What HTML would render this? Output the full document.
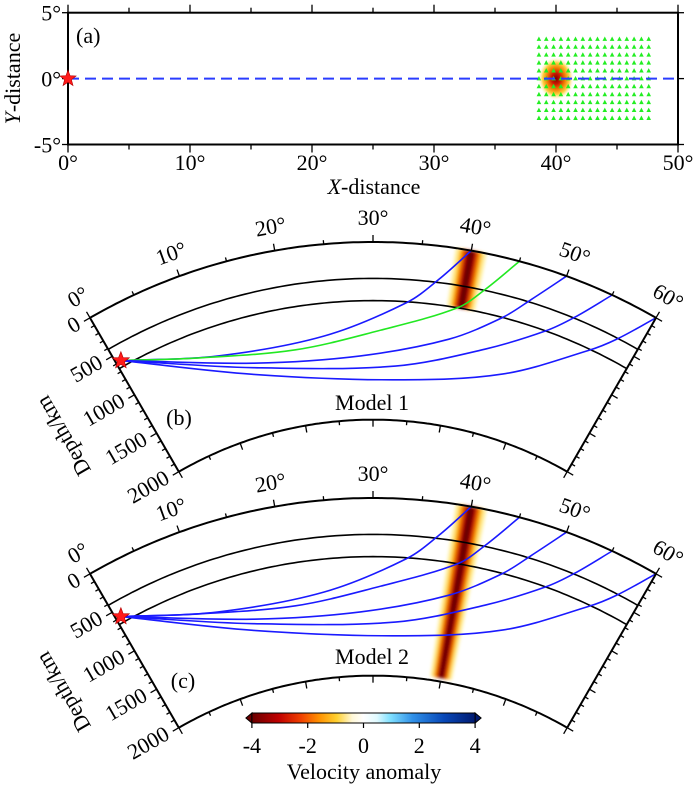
<!DOCTYPE html>
<html><head><meta charset="utf-8"><style>
html,body{margin:0;padding:0;background:#fff;}
svg{display:block;font-family:"Liberation Serif",serif;}
</style></head><body>
<svg id="fig" width="700" height="785" viewBox="0 0 700 785" xmlns="http://www.w3.org/2000/svg">
<defs>
<radialGradient id="anomA" cx="0.5" cy="0.5" r="0.5">
<stop offset="0" stop-color="#7a0000"/><stop offset="0.25" stop-color="#c81800"/><stop offset="0.5" stop-color="#f07a00"/><stop offset="0.75" stop-color="#ffd040"/><stop offset="1" stop-color="#fff6c0" stop-opacity="0"/>
</radialGradient>
<linearGradient id="cbar" x1="0" x2="1" y1="0" y2="0">
<stop offset="0" stop-color="#6a0000"/><stop offset="0.12" stop-color="#c00000"/><stop offset="0.22" stop-color="#f04000"/><stop offset="0.3" stop-color="#ff9000"/><stop offset="0.38" stop-color="#ffd030"/><stop offset="0.45" stop-color="#fff8d8"/><stop offset="0.5" stop-color="#ffffff"/><stop offset="0.56" stop-color="#e0faff"/><stop offset="0.62" stop-color="#80e0ff"/><stop offset="0.72" stop-color="#3090e8"/><stop offset="0.86" stop-color="#0848b8"/><stop offset="1" stop-color="#001a70"/>
</linearGradient>
<filter id="blur" x="-50%" y="-10%" width="200%" height="120%"><feGaussianBlur stdDeviation="1.6"/></filter>
</defs>
<g id="panelA"></g>
<g id="panelB"></g>
<g id="panelC"></g>
<g id="cbarG"></g>
</svg>
<script>
// ---------- data ----------
const aXTicks = [0,10,20,30,40,50];
const aYTicks = [5,0,-5];
const aSource = [0,0];
const aAnomaly = [40,0,1.45,1.6];
const stationX = [38.6,39.2,39.8,40.4,41.0,41.6,42.2,42.8,43.4,44.0,44.6,45.2,45.8,46.4,47.0,47.6];
const stationY = [3.0,2.4,1.8,1.2,0.6,0,-0.6,-1.2,-1.8,-2.4,-3.0];
const distTicks = [0,10,20,30,40,50,60];
const depthTicks = [0,500,1000,1500,2000];
const discontinuities = [410,660];
const srcTheta = 0.6, srcDepth = 590;
const rayEnds = [40,45,50,55,60];
const ray1Theta = [11.0,24.1,33.8,37.1], ray1Depth = [990,1030,670,375];
const ray2Theta = [8.9,20.4,30.6,39.6,42.2], ray2Depth = [940,1140,1000,660,400];
const ray3Theta = [14.9,28.4,39.2,44.8,47.3], ray3Depth = [1185,1280,1025,660,375];
const ray4Theta = [14.8,32.9,43.7,49.9,52.3], ray4Depth = [1235,1390,1055,660,405];
const ray5Theta = [14.5,33.0,46.6,55.2,57.5], ray5Depth = [1305,1545,1275,680,420];
const ray1ThetaC = [11.0,24.1,33.8,37.1], ray1DepthC = [990,1030,670,375];
const ray2ThetaC = [8.9,20.4,30.6,39.6,42.2], ray2DepthC = [940,1140,1000,660,400];
const ray3ThetaC = [14.9,28.4,39.2,44.8,47.3], ray3DepthC = [1185,1280,1025,660,375];
const ray4ThetaC = [14.8,32.9,43.7,49.9,52.3], ray4DepthC = [1235,1390,1055,660,405];
const ray5ThetaC = [14.5,33.0,46.6,55.2,57.5], ray5DepthC = [1305,1545,1275,680,420];
const bandB = [40,0,660];   // theta, top depth, bottom depth
const bandC = [40,0,1960];
const cbTicks = [-4,-2,0,2,4];

// ---------- helpers ----------
const NS="http://www.w3.org/2000/svg";
const FS=22;
function mk(tag, attrs, parent){const e=document.createElementNS(NS,tag);for(const k in attrs)e.setAttribute(k,attrs[k]);parent.appendChild(e);return e;}
function txt(s, attrs, parent){const e=mk('text',attrs,parent);e.textContent=s;return e;}
function starPts(cx,cy,ro,ri){let p=[];for(let i=0;i<10;i++){const a=-Math.PI/2+i*Math.PI/5;const r=i%2?ri:ro;p.push((cx+r*Math.cos(a)).toFixed(1)+','+(cy+r*Math.sin(a)).toFixed(1));}return p.join(' ');}

// ---------- panel a ----------
const A=document.getElementById('panelA');
const AX0=68, AX1=678, AY0=12.7, AY1=144.5;
const ax=d=>AX0+(d-0)*(AX1-AX0)/50;
const ay=v=>(AY0+AY1)/2 - v*(AY1-AY0)/10;
let e;
e=mk('ellipse',{cx:ax(aAnomaly[0]),cy:ay(aAnomaly[1]),rx:ax(aAnomaly[2])-ax(0),ry:ay(0)-ay(aAnomaly[3]),fill:'url(#anomA)'},A);


stationX.forEach(x=>stationY.forEach(y=>{
  const px=ax(x), py=ay(y);
  const t=mk('polygon',{points:`${px},${py-2.6} ${px-2.3},${py+1.8} ${px+2.3},${py+1.8}`,fill:'#22ee22'},A);
  
  
}));
e=mk('line',{x1:ax(0),y1:ay(0),x2:ax(50),y2:ay(0),stroke:'#2a3cff','stroke-width':2,'stroke-dasharray':'11,6'},A);


e=mk('rect',{x:AX0,y:AY0,width:AX1-AX0,height:AY1-AY0,fill:'none',stroke:'#000','stroke-width':2},A);


for(let d=0;d<=50;d+=5){
  mk('line',{x1:ax(d),y1:AY0,x2:ax(d),y2:AY0-(d%10?5:8),stroke:'#000','stroke-width':1.3},A);
  mk('line',{x1:ax(d),y1:AY1,x2:ax(d),y2:AY1+(d%10?5:8),stroke:'#000','stroke-width':1.3},A);
}
aXTicks.forEach(d=>{const t=txt(d+'°',{x:ax(d),y:170,'font-size':FS,'text-anchor':'middle'},A);
  
  });
aYTicks.forEach(v=>{
  mk('line',{x1:AX0-6,y1:ay(v),x2:AX0,y2:ay(v),stroke:'#000','stroke-width':1.3},A);
  mk('line',{x1:AX1,y1:ay(v),x2:AX1+6,y2:ay(v),stroke:'#000','stroke-width':1.3},A);
  const t=txt(v+'°',{x:61,y:ay(v)+8,'font-size':FS,'text-anchor':'end'},A);
  
  
});
e=txt('',{x:374,y:194,'font-size':FS,'text-anchor':'middle'},A);
e.innerHTML='<tspan font-style="italic">X</tspan>-distance';


e=txt('',{x:0,y:0,'font-size':FS,'text-anchor':'middle',transform:`translate(20,${ay(0)}) rotate(-90)`},A);
e.innerHTML='<tspan font-style="italic">Y</tspan>-distance';


e=txt('(a)',{x:76,y:43,'font-size':FS},A);


e=mk('polygon',{points:starPts(ax(aSource[0]),ay(aSource[1]),8.5,3.6),fill:'#ff1a1a',stroke:'#b00000','stroke-width':0.6},A);



// ---------- polar panels ----------
const R=566, CX=373;
function rOf(depth){return R*(6371-depth)/6371;}
function polR(theta,r,cy){const p=(theta-30)*Math.PI/180;return [CX+r*Math.sin(p), cy-r*Math.cos(p)];}
function pol(theta,depth,cy){return polR(theta,rOf(depth),cy);}
function arcPath(depth,cy,t0,t1){let s='';for(let t=t0;t<=t1+1e-9;t+=0.5){const p=pol(t,depth,cy);s+=(s?'L':'M')+p[0].toFixed(1)+','+p[1].toFixed(1);}return s;}
function norm(v){const l=Math.hypot(v[0],v[1])||1;return [v[0]/l,v[1]/l];}
function smoothPath(pts){
  const n=pts.length, dirs=[];
  for(let i=0;i<n;i++){const a=pts[Math.max(0,i-1)], b=pts[Math.min(n-1,i+1)];dirs.push(norm([b[0]-a[0],b[1]-a[1]]));}
  let s='M'+pts[0][0].toFixed(1)+','+pts[0][1].toFixed(1);
  for(let i=0;i<n-1;i++){const p1=pts[i],p2=pts[i+1];const L=Math.hypot(p2[0]-p1[0],p2[1]-p1[1])/3;
    const c1=[p1[0]+dirs[i][0]*L,p1[1]+dirs[i][1]*L], c2=[p2[0]-dirs[i+1][0]*L,p2[1]-dirs[i+1][1]*L];
    s+=`C${c1[0].toFixed(1)},${c1[1].toFixed(1)} ${c2[0].toFixed(1)},${c2[1].toFixed(1)} ${p2[0].toFixed(1)},${p2[1].toFixed(1)}`;}
  return s;}
function sector(t0,t1,d0,d1,cy){let s='';for(let t=t0;t<=t1+1e-9;t+=(t1-t0)/6){const p=pol(t,d0,cy);s+=(s?'L':'M')+p[0].toFixed(1)+','+p[1].toFixed(1);}
  for(let t=t1;t>=t0-1e-9;t-=(t1-t0)/6){const p=pol(t,d1,cy);s+='L'+p[0].toFixed(1)+','+p[1].toFixed(1);}return s+'Z';}

function drawPolar(G,cy,band,rays,colors,lbl,model,lblY,modelY){
  const bg=mk('g',{filter:'url(#blur)'},G);
  
  
  const widths=[1.6,1.25,0.95,0.65,0.35], cols=['#fff0a0','#ffc820','#f07000','#c01000','#6a0000'];
  widths.forEach((w,i)=>mk('path',{d:sector(band[0]-w,band[0]+w,band[1],band[2],cy),fill:cols[i]},bg));
  discontinuities.forEach(d=>{const p=mk('path',{d:arcPath(d,cy,0,60),fill:'none',stroke:'#000','stroke-width':1.6},G);
    
    });
  const src=pol(srcTheta,srcDepth,cy);
  rays.forEach((ry,i)=>{const pts=[src];ry[0].forEach((t,j)=>pts.push(pol(t,ry[1][j],cy)));pts.push(pol(rayEnds[i],0,cy));
    const p=mk('path',{d:smoothPath(pts),fill:'none',stroke:colors[i],'stroke-width':1.6},G);
    
    });
  const top=arcPath(0,cy,0,60), bot=arcPath(2000,cy,0,60);
  let p=mk('path',{d:top,fill:'none',stroke:'#000','stroke-width':2},G);
  
  
  p=mk('path',{d:bot,fill:'none',stroke:'#000','stroke-width':2},G);
  
  
  [0,60].forEach(t=>{const a=pol(t,0,cy),b=pol(t,2000,cy);const l=mk('line',{x1:a[0],y1:a[1],x2:b[0],y2:b[1],stroke:'#000','stroke-width':2},G);
    
    });
  for(let t=0;t<=60;t+=5){const L=t%10?4:7;
    const a=polR(t,rOf(0),cy),b=polR(t,rOf(0)+L,cy);mk('line',{x1:a[0],y1:a[1],x2:b[0],y2:b[1],stroke:'#000','stroke-width':1.3},G);
    const c=polR(t,rOf(2000),cy),d=polR(t,rOf(2000)-L,cy);mk('line',{x1:c[0],y1:c[1],x2:d[0],y2:d[1],stroke:'#000','stroke-width':1.3},G);}
  distTicks.forEach(t=>{const q=polR(t,rOf(0)+22,cy);const tx=txt(t+'°',{x:q[0],y:q[1],'font-size':FS,'text-anchor':'middle','dominant-baseline':'middle',transform:`rotate(${t-30} ${q[0]} ${q[1]})`},G);
    
    });
  for(let d=0;d<=2000;d+=100){const L=d%500?4:7;
    const a=pol(0,d,cy);mk('line',{x1:a[0],y1:a[1],x2:a[0]-L*0.866,y2:a[1]+L*0.5,stroke:'#000','stroke-width':1.3},G);
    const b=pol(60,d,cy);mk('line',{x1:b[0],y1:b[1],x2:b[0]+L*0.866,y2:b[1]+L*0.5,stroke:'#000','stroke-width':1.3},G);}
  depthTicks.forEach(d=>{const a=pol(0,d,cy);const x=a[0]-12*0.866,y=a[1]+12*0.5;
    const tx=txt(String(d),{x:x,y:y,'font-size':FS,'text-anchor':'end','dominant-baseline':'middle',transform:`rotate(-30 ${x} ${y})`},G);
    
    });
  const dl=pol(0,1000,cy);const dx=dl[0]-0.866*80,dy=dl[1]+0.5*80;
  let t2=txt('Depth/km',{x:dx,y:dy,'font-size':FS,'text-anchor':'middle','dominant-baseline':'middle',transform:`rotate(-120 ${dx} ${dy})`},G);
  
  
  t2=txt(lbl,{x:lblY[0],y:lblY[1],'font-size':FS,'text-anchor':'middle'},G);
  
  
  t2=txt(model,{x:372,y:modelY,'font-size':FS,'text-anchor':'middle'},G);
  
  
  const s=mk('polygon',{points:starPts(src[0],src[1],9,3.8),fill:'#ff1a1a',stroke:'#b00000','stroke-width':0.6},G);
  
  
}
const BL='#1a1aff', GR='#22e822';
drawPolar(document.getElementById('panelB'),808,bandB,
  [[ray1Theta,ray1Depth],[ray2Theta,ray2Depth],[ray3Theta,ray3Depth],[ray4Theta,ray4Depth],[ray5Theta,ray5Depth]],
  [BL,GR,BL,BL,BL],'(b)','Model 1',[179,425],410);
drawPolar(document.getElementById('panelC'),1064,bandC,
  [[ray1ThetaC,ray1DepthC],[ray2ThetaC,ray2DepthC],[ray3ThetaC,ray3DepthC],[ray4ThetaC,ray4DepthC],[ray5ThetaC,ray5DepthC]],
  [BL,BL,BL,BL,BL],'(c)','Model 2',[183,688],664);

// ---------- colorbar ----------
const CB=document.getElementById('cbarG');
const cx=v=>363.5+v*27.9, CBY0=713, CBY1=723;
e=mk('polygon',{points:`${cx(-4)},${CBY0} ${cx(-4)-6},${(CBY0+CBY1)/2} ${cx(-4)},${CBY1}`,fill:'#6a0000',stroke:'#000','stroke-width':1},CB);


e=mk('polygon',{points:`${cx(4)},${CBY0} ${cx(4)+6},${(CBY0+CBY1)/2} ${cx(4)},${CBY1}`,fill:'#001a70',stroke:'#000','stroke-width':1},CB);


e=mk('rect',{x:cx(-4),y:CBY0,width:cx(4)-cx(-4),height:CBY1-CBY0,fill:'url(#cbar)',stroke:'#000','stroke-width':1},CB);


cbTicks.forEach(v=>{mk('line',{x1:cx(v),y1:CBY1,x2:cx(v),y2:CBY1+5,stroke:'#000','stroke-width':1.2},CB);
  const t=txt(String(v),{x:cx(v),y:753,'font-size':FS,'text-anchor':'middle'},CB);
  
  });
e=txt('Velocity anomaly',{x:364,y:779,'font-size':FS,'text-anchor':'middle'},CB);


</script>
</body></html>
